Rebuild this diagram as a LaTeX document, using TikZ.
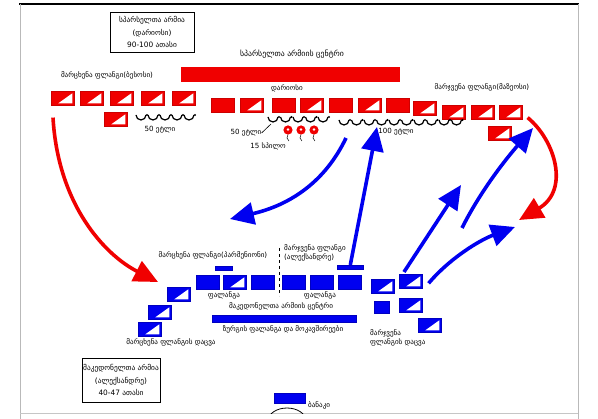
\documentclass[tikz,border=0pt]{standalone}
\usepackage{fontspec}
\newfontfamily\geo{DejaVu Sans}
\usetikzlibrary{arrows.meta}
\definecolor{rd}{RGB}{240,0,0}
\definecolor{bl}{RGB}{0,0,240}
\begin{document}
\begin{tikzpicture}[x=1pt,y=-1pt,
  sq/.style={rectangle, inner sep=0pt, minimum width=23pt, minimum height=14pt, anchor=north west},
  rsq/.style={sq, fill=rd, draw=rd!85!black, line width=0.6pt},
  bsq/.style={sq, fill=bl, draw=bl!80!black, line width=0.6pt},
  tri/.style={path picture={\fill[white] ([shift={(-2pt,2pt)}]path picture bounding box.south east) -- ([shift={(7pt,2pt)}]path picture bounding box.south west) -- ([shift={(-2pt,-2pt)}]path picture bounding box.north east) -- cycle;}},
  lbl/.style={font=\geo\fontsize{7.1}{8.6}\selectfont, inner sep=0pt, align=center},
  rarrow/.style={draw=rd, line width=3.6pt, -{Triangle[length=24pt,width=22pt]}},
  barrow/.style={draw=bl, line width=3.6pt, -{Triangle[length=24pt,width=22pt]}},
  chariot/.style={line width=1.2pt},
  box/.style={draw, line width=0.8pt, minimum width=84pt, minimum height=40pt, inner sep=0pt, font=\geo\fontsize{7.4}{12.5}\selectfont, align=center}
]
\useasboundingbox (0,0) rectangle (598,419);
\fill[white] (0,0) rectangle (598,419);
% frame
\draw[line width=2pt] (19,4) -- (579,4);
\draw[gray!55, line width=0.6pt] (20,4) -- (20,419) (578,4) -- (578,419);
\draw[gray!45, line width=1pt] (20,414) -- (578,414);

% info boxes
\node[box] (pbox) at (152,32) {სპარსელთა არმია\\(დარიოსი)\\90-100 ათასი};
\node[box, minimum width=78pt, minimum height=44pt] (mbox) at (121,380) {მაკედონელთა არმია\\(ალექსანდრე)\\40-47 ათასი};

% Persian army
\node[lbl, font=\geo\fontsize{7.8}{9}\selectfont] (ptitle) at (292,54) {სპარსელთა არმიის ცენტრი};
\node[rectangle, fill=rd, inner sep=0pt, minimum width=219pt, minimum height=15pt, anchor=north west] (pbar) at (181,67) {};
\node[lbl] (lflab) at (107,75) {მარცხენა ფლანგი(ბესოსი)};
\node[lbl] (darius) at (287,88) {დარიოსი};
\node[lbl] (rflab) at (482,87) {მარჯვენა ფლანგი(მაზეოსი)};

% left flank squares
\node[rsq,tri] (l1) at (51,91) {};
\node[rsq,tri] (l2) at (80,91) {};
\node[rsq,tri] (l3) at (110,91) {};
\node[rsq,tri] (l4) at (141,91) {};
\node[rsq,tri] (l5) at (172,91) {};
\node[rsq,tri] (l6) at (104,112) {};
% centre squares
\node[rsq] (c1) at (211,98) {};
\node[rsq,tri] (c2) at (240,98) {};
\node[rsq] (c3) at (272,98) {};
\node[rsq,tri] (c4) at (300,98) {};
\node[rsq] (c5) at (329,98) {};
\node[rsq,tri] (c6) at (358,98) {};
\node[rsq] (c7) at (386,98) {};
\node[rsq,tri] (c8) at (413,101) {};
% right flank squares
\node[rsq,tri] (r1) at (442,105) {};
\node[rsq,tri] (r2) at (471,105) {};
\node[rsq,tri] (r3) at (499,105) {};
\node[rsq,tri] (r4) at (488,126) {};

% chariots
\foreach \k in {0,...,4} {
  \draw[chariot] (136+12*\k,115) arc[start angle=180, end angle=360, radius=5pt];
  \fill (147+12*\k,115) circle (1.1pt);
}
\foreach \k in {0,...,4} {
  \draw[chariot] (268+12.5*\k,117) arc[start angle=180, end angle=360, radius=5pt];
  \fill (279+12.5*\k,117) circle (1.1pt);
}
\foreach \k in {0,...,9} {
  \draw[chariot] (339+12.5*\k,120) arc[start angle=180, end angle=360, radius=5pt];
  \fill (350+12.5*\k,120) circle (1.1pt);
}
\node[lbl] (ch1) at (160,130) {50 ეტლი};
\node[lbl] (ch2) at (246,133) {50 ეტლი};
\draw[line width=0.6pt] (ch2.east) -- (271,124);
\node[lbl] (eleph) at (268,146) {15 სპილო};
\node[lbl] (ch3) at (396,132) {100 ეტლი};

% elephants
\foreach \ex in {288,301,314} {
  \fill[rd] (\ex,130) circle (4.6pt);
  \fill[white] (\ex,129.5) circle (1.3pt);
  \draw[line width=0.5pt] (\ex,134.6) -- (\ex-1,138) -- (\ex+1,141);
}

% Macedonian army
\node[lbl] (mlflab) at (213,255) {მარცხენა ფლანგი(პარმენიონი)};
\node[lbl, align=left, anchor=west] (mrflab) at (284,253) {მარჯვენა ფლანგი\\(ალექსანდრე)};
\node[bsq, minimum width=17pt, minimum height=4pt] (bb1) at (215,266) {};
\node[bsq, minimum width=26pt, minimum height=4pt] (bb2) at (337,265) {};
\node[bsq] (m1) at (196,275) {};
\node[bsq,tri] (m2) at (223,275) {};
\node[bsq] (m3) at (251,275) {};
\node[bsq] (m4) at (282,275) {};
\node[bsq] (m5) at (310,275) {};
\node[bsq] (m6) at (338,275) {};
\draw[dashed, line width=0.5pt] (279,248) -- (279,296);
\node[lbl] (phal1) at (224,295) {ფალანგა};
\node[lbl] (phal2) at (320,295) {ფალანგა};
\node[lbl] (mtitle) at (281,306) {მაკედონელთა არმიის ცენტრი};
\node[bsq, minimum width=144pt, minimum height=7pt] (mbar) at (212,315) {};
\node[lbl] (rear) at (283,329) {ზურგის ფალანგა და მოკავშირეები};

% left guard
\node[bsq,tri] (g1) at (167,287) {};
\node[bsq,tri] (g2) at (148,305) {};
\node[bsq,tri] (g3) at (138,322) {};
\node[lbl] (lguard) at (171,342) {მარცხენა ფლანგის დაცვა};
% right guard
\node[bsq,tri] (h1) at (371,279) {};
\node[bsq,tri] (h2) at (399,274) {};
\node[bsq, minimum width=15pt, minimum height=12pt] (h3) at (374,301) {};
\node[bsq,tri] (h4) at (399,298) {};
\node[bsq,tri] (h5) at (418,318) {};
\node[lbl, align=left, anchor=west] (rguard) at (370,338) {მარჯვენა\\ფლანგის დაცვა};

% camp
\node[bsq, minimum width=31pt, minimum height=10pt] (campbar) at (274,393) {};
\node[lbl, anchor=west] (camp) at (308,405) {ბანაკი};
\begin{scope}
\clip (0,0) rectangle (598,413.5);
\draw[line width=0.8pt] (287,421) ellipse [x radius=19pt, y radius=13pt];
\end{scope}

% arrows
\coordinate (rlend) at (158,282);
\coordinate (rrend) at (519,220);
\draw[rarrow] ([xshift=2pt,yshift=-12pt]l1.south west) .. controls (58,205) and (105,255) .. (rlend);
\draw[rarrow] ([xshift=5pt,yshift=2pt]r3.south east) .. controls (555,140) and (570,190) .. (rrend);

\coordinate (baend) at (377,127);
\coordinate (bbstart) at (346,138);
\coordinate (bbend) at (230,219);
\coordinate (bcend) at (461,185);
\coordinate (bdstart) at (462,228);
\coordinate (bdend) at (533,128);
\coordinate (beend) at (515,227);
\draw[barrow] (bb2.north) -- (baend);
\draw[barrow] (bbstart) .. controls (325,182) and (290,205) .. (bbend);
\draw[barrow] ([xshift=5pt,yshift=2pt]h2.north west) -- (bcend);
\draw[barrow] (bdstart) .. controls (480,192) and (505,160) .. (bdend);
\draw[barrow] ([xshift=6pt,yshift=-2pt]h2.east) .. controls (450,258) and (480,240) .. (beend);
\end{tikzpicture}
\end{document}
